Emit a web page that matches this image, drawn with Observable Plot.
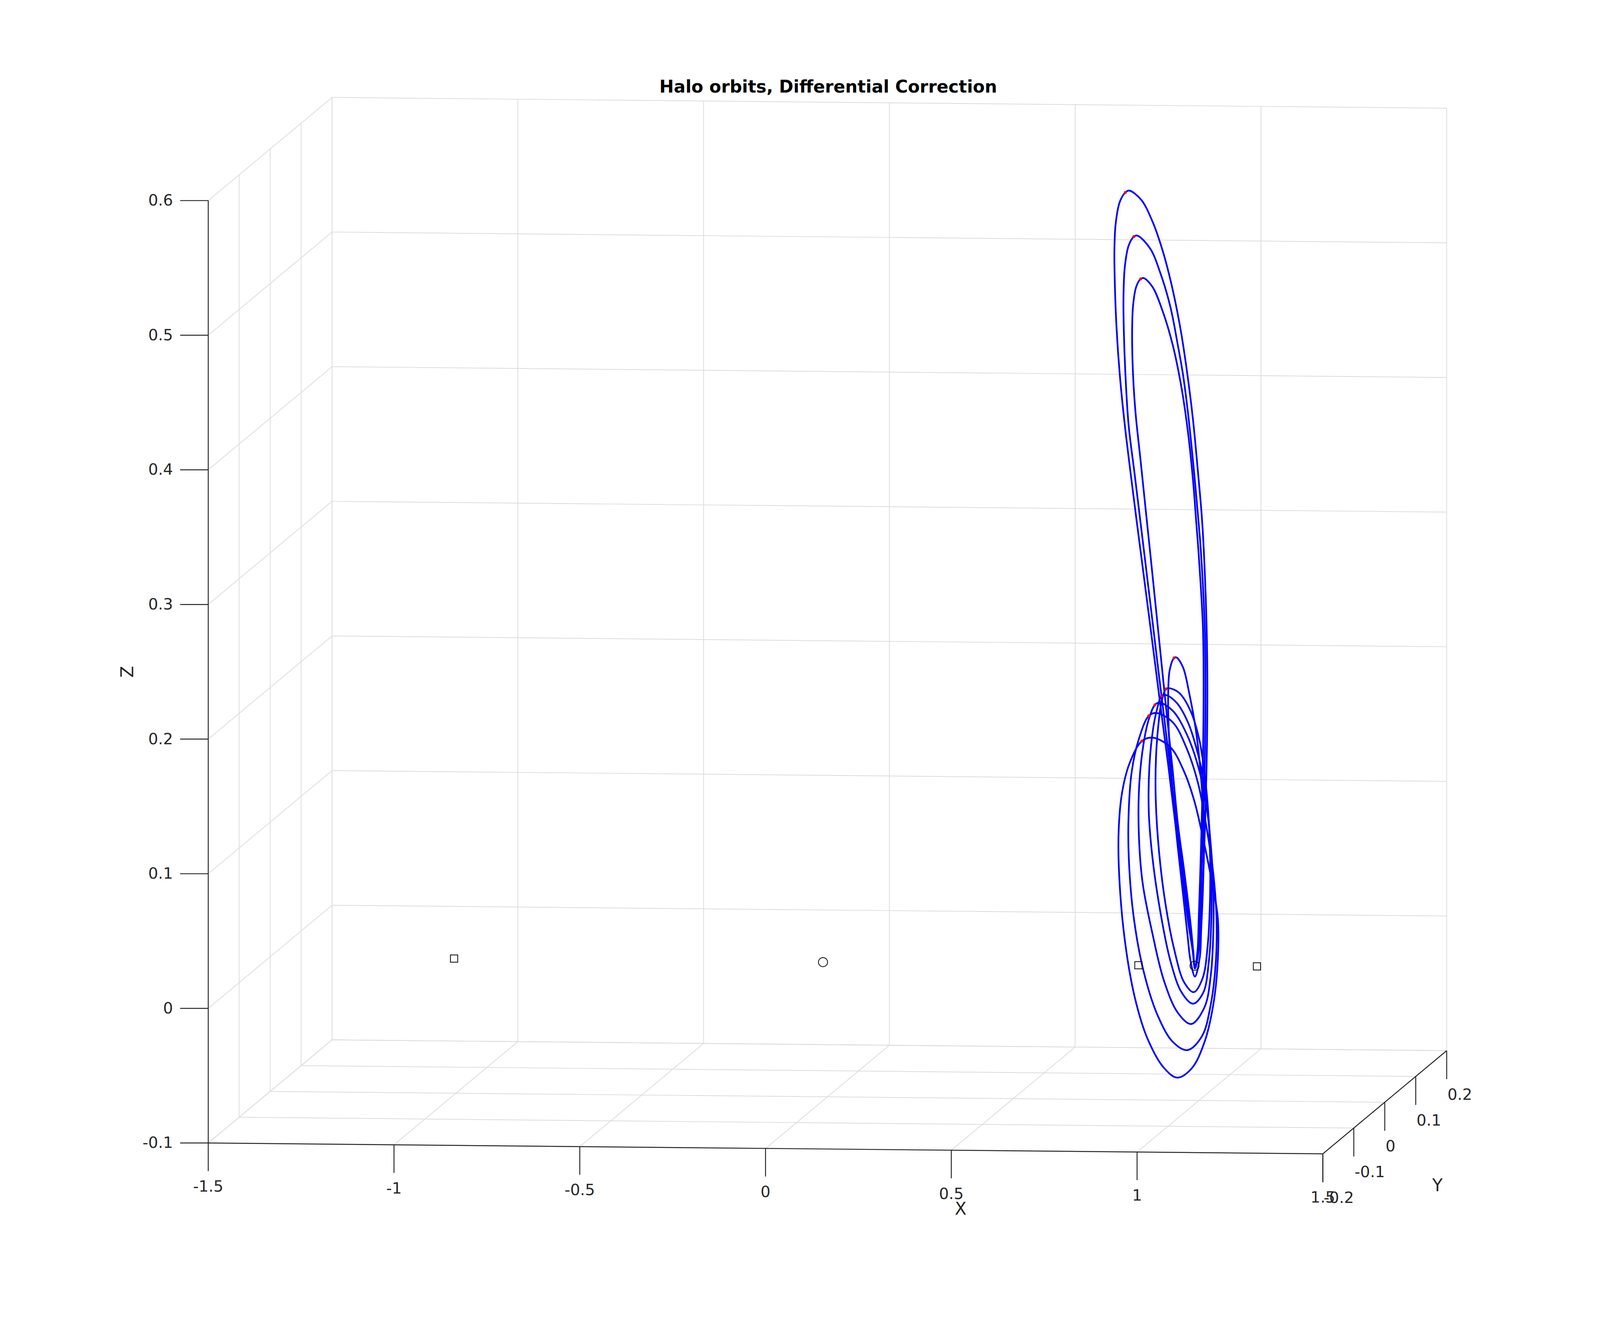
<!DOCTYPE html>
<html>
<head>
<meta charset="utf-8">
<script src="https://cdn.jsdelivr.net/npm/d3@7"></script>
<script src="https://cdn.jsdelivr.net/npm/@observablehq/plot@0.6"></script>
<style>
html, body { margin: 0; padding: 0; background: #ffffff; }
#chart svg { display: block; }
</style>
</head>
<body>
<div id="chart"></div>
<script>
// ---------- axis ticks ----------
const xTicks = [-1.5, -1, -0.5, 0, 0.5, 1, 1.5];
const yTicks = [-0.2, -0.1, 0, 0.1, 0.2];
const zTicks = [-0.1, 0, 0.1, 0.2, 0.3, 0.4, 0.5, 0.6];
const xTickLabels = ["-1.5", "-1", "-0.5", "0", "0.5", "1", "1.5"];
const yTickLabels = ["-0.2", "-0.1", "0", "0.1", "0.2"];
const zTickLabels = ["-0.1", "0", "0.1", "0.2", "0.3", "0.4", "0.5", "0.6"];
const titleText = "Halo orbits, Differential Correction";

// ---------- bodies and libration points (y = 0, z = 0) ----------
const lagrangeX = [-1.005, 0.837, 1.156];   // L3, L1, L2 (squares)
const primaryX = [-0.012, 0.988];          // Earth, Moon (circles)

// ---------- orbits: [x, z] (y taken as 0) ----------
// first point of each orbit = initial condition (red marker)
const orbitT1 = [[0.8019,0.5739],[0.8122,0.5753],[0.8445,0.5685],[0.8751,0.5523],[0.9024,0.5307],[0.9262,0.5056],[0.9500,0.4732],[0.9688,0.4391],[0.9841,0.4049],[0.9977,0.3653],[1.0073,0.3348],[1.0130,0.3082],[1.0205,0.2518],[1.0226,0.2086],[1.0215,0.1655],[1.0181,0.1223],[1.0130,0.0792],[1.0062,0.0360],[0.9990,0.0110],[0.9892,-0.0020],[0.9830,0.0110],[0.9705,0.0330],[0.9535,0.0700],[0.9364,0.1051],[0.9175,0.1482],[0.8990,0.1870],[0.8840,0.2194],[0.8690,0.2518],[0.8425,0.3082],[0.8325,0.3294],[0.8160,0.3653],[0.8002,0.4013],[0.7866,0.4391],[0.7781,0.4732],[0.7737,0.5038],[0.7723,0.5307],[0.7757,0.5505],[0.7866,0.5667]];
const orbitT2 = [[0.8248,0.5412],[0.8343,0.5419],[0.8683,0.5325],[0.8956,0.5146],[0.9228,0.4894],[0.9432,0.4606],[0.9569,0.4391],[0.9705,0.4103],[0.9841,0.3743],[0.9960,0.3384],[1.0050,0.3082],[1.0155,0.2518],[1.0175,0.2086],[1.0164,0.1655],[1.0130,0.1223],[1.0079,0.0792],[1.0028,0.0360],[0.9975,0.0110],[0.9890,-0.0020],[0.9838,0.0110],[0.9739,0.0330],[0.9569,0.0700],[0.9398,0.1051],[0.9220,0.1482],[0.9050,0.1870],[0.8905,0.2194],[0.8765,0.2518],[0.8517,0.3082],[0.8400,0.3348],[0.8265,0.3653],[0.8105,0.4013],[0.8019,0.4391],[0.7975,0.4732],[0.7968,0.4966],[0.8002,0.5182],[0.8105,0.5343]];
const orbitT3 = [[0.8428,0.5097],[0.8513,0.5104],[0.8751,0.5038],[0.9024,0.4858],[0.9296,0.4606],[0.9535,0.4283],[0.9705,0.3959],[0.9841,0.3599],[0.9926,0.3294],[0.9985,0.3082],[1.0105,0.2518],[1.0124,0.2086],[1.0113,0.1655],[1.0086,0.1223],[1.0045,0.0792],[0.9994,0.0360],[0.9960,0.0110],[0.9888,-0.0020],[0.9845,0.0110],[0.9766,0.0330],[0.9603,0.0700],[0.9432,0.1051],[0.9280,0.1482],[0.9130,0.1870],[0.9010,0.2194],[0.8890,0.2518],[0.8680,0.3082],[0.8565,0.3384],[0.8430,0.3743],[0.8292,0.4103],[0.8224,0.4391],[0.8200,0.4678],[0.8224,0.4894],[0.8309,0.5038]];
const orbitN  = [[0.9330,0.2285],[0.9392,0.2289],[0.9569,0.2216],[0.9739,0.2021],[0.9909,0.1763],[1.0028,0.1482],[1.0107,0.1180],[1.0130,0.0878],[1.0107,0.0576],[1.0060,0.0274],[1.0020,0.0060],[0.9892,-0.0081],[0.9770,0.0040],[0.9690,0.0231],[0.9535,0.0619],[0.9381,0.1008],[0.9262,0.1396],[0.9187,0.1741],[0.9170,0.2000],[0.9211,0.2194]];
const orbitE1 = [[0.9109,0.2054],[0.9194,0.2060],[0.9466,0.2026],[0.9773,0.1892],[1.0011,0.1676],[1.0164,0.1396],[1.0260,0.1094],[1.0300,0.0792],[1.0294,0.0468],[1.0232,0.0145],[1.0096,-0.0093],[0.9858,-0.0196],[0.9603,-0.0125],[0.9330,0.0123],[0.9092,0.0468],[0.8928,0.0835],[0.8837,0.1223],[0.8843,0.1547],[0.8922,0.1827],[0.8990,0.1957]];
const orbitE2 = [[0.8990,0.2000],[0.9109,0.2009],[0.9398,0.1952],[0.9705,0.1806],[0.9977,0.1568],[1.0164,0.1310],[1.0283,0.1008],[1.0334,0.0684],[1.0334,0.0360],[1.0266,0.0037],[1.0113,-0.0200],[0.9841,-0.0282],[0.9535,-0.0200],[0.9228,0.0037],[0.8956,0.0404],[0.8751,0.0792],[0.8649,0.1137],[0.8666,0.1482],[0.8768,0.1763],[0.8871,0.1903]];
const orbitE3 = [[0.8813,0.1935],[0.8939,0.1952],[0.9296,0.1892],[0.9671,0.1719],[0.9977,0.1482],[1.0181,0.1223],[1.0317,0.0900],[1.0386,0.0576],[1.0386,0.0253],[1.0317,-0.0071],[1.0147,-0.0308],[0.9790,-0.0433],[0.9432,-0.0351],[0.9058,-0.0114],[0.8751,0.0231],[0.8479,0.0619],[0.8377,0.1008],[0.8394,0.1353],[0.8513,0.1655],[0.8649,0.1827]];
const orbitE4 = [[0.8649,0.1853],[0.8854,0.1875],[0.9296,0.1806],[0.9671,0.1612],[0.9977,0.1353],[1.0215,0.1008],[1.0386,0.0684],[1.0471,0.0360],[1.0454,0.0037],[1.0317,-0.0286],[1.0079,-0.0523],[0.9688,-0.0627],[0.9296,-0.0567],[0.8888,-0.0372],[0.8513,-0.0049],[0.8241,0.0360],[0.8111,0.0792],[0.8105,0.1115],[0.8190,0.1439],[0.8377,0.1676]];
const orbitE5 = [[0.8462,0.1665],[0.8751,0.1691],[0.9228,0.1622],[0.9603,0.1439],[0.9875,0.1223],[1.0113,0.0943],[1.0351,0.0619],[1.0505,0.0360],[1.0505,0.0037],[1.0386,-0.0286],[1.0147,-0.0567],[0.9807,-0.0761],[0.9415,-0.0832],[0.9058,-0.0761],[0.8615,-0.0545],[0.8275,-0.0243],[0.8002,0.0188],[0.7849,0.0684],[0.7839,0.1008],[0.7934,0.1288],[0.8138,0.1504]];

const orbits = [["T1", orbitT1], ["T2", orbitT2], ["T3", orbitT3], ["N", orbitN],
                ["E1", orbitE1], ["E2", orbitE2], ["E3", orbitE3], ["E4", orbitE4], ["E5", orbitE5]];

// ---------- 3-D view (orthographic, MATLAB-like view) ----------
const KU = 815.8 / 979, KVX = -9.5 / 3547, KVY = 679.5 / 3547;
const U = (x, y, z) => x + KU * y;             // projected horizontal coordinate
const V = (x, y, z) => z + KVX * x + KVY * y;  // projected vertical coordinate
const PXU = 1 / 979, PXV = 1 / 3547;           // one screen pixel in u / v units
const X0 = -1.5, X1 = 1.5, Y0 = -0.2, Y1 = 0.2, Z0 = -0.1, Z1 = 0.6;
const u0 = U(X0, Y0, Z0), v0 = V(X0, Y0, Z0);

function seg(a, b) {
  return {x1: U(...a), y1: V(...a), x2: U(...b), y2: V(...b)};
}

// grid on the back wall (y=Y1), left wall (x=X0) and floor (z=Z0)
const grid = [];
for (const x of xTicks) { grid.push(seg([x, Y1, Z0], [x, Y1, Z1])); grid.push(seg([x, Y0, Z0], [x, Y1, Z0])); }
for (const y of yTicks) { grid.push(seg([X0, y, Z0], [X0, y, Z1])); grid.push(seg([X0, y, Z0], [X1, y, Z0])); }
for (const z of zTicks) { grid.push(seg([X0, Y1, z], [X1, Y1, z])); grid.push(seg([X0, Y0, z], [X0, Y1, z])); }

const axesLines = [
  seg([X0, Y0, Z0], [X1, Y0, Z0]),
  seg([X1, Y0, Z0], [X1, Y1, Z0]),
  seg([X0, Y0, Z0], [X0, Y0, Z1])
];

const TICK = 74;
const ticks = [];
for (const x of xTicks) { const u = U(x, Y0, Z0), v = V(x, Y0, Z0); ticks.push({x1: u, y1: v, x2: u, y2: v - TICK * PXV}); }
for (const y of yTicks) { const u = U(X1, y, Z0), v = V(X1, y, Z0); ticks.push({x1: u, y1: v, x2: u, y2: v - 75 * PXV}); }
for (const z of zTicks) { const u = U(X0, Y0, z), v = V(X0, Y0, z); ticks.push({x1: u, y1: v, x2: u - TICK * PXU, y2: v}); }

const xLab = xTicks.map((x, i) => ({t: xTickLabels[i], u: U(x, Y0, Z0), v: V(x, Y0, Z0) - 99 * PXV}));
const yLab = yTicks.map((y, i) => ({t: yTickLabels[i], u: U(X1, y, Z0) + 2 * PXU, v: V(X1, y, Z0) - 100 * PXV}));
const zLab = zTicks.map((z, i) => ({t: zTickLabels[i], u: U(X0, Y0, z) - 93 * PXU, v: V(X0, Y0, z)}));

const orbitPoints = orbits.flatMap(([name, pts]) => pts.map(([x, z]) => ({name, x, y: 0, z})));
const initPoints = orbits.map(([name, pts]) => ({name, x: pts[0][0], y: 0, z: pts[0][1]}));
const lagrangePts = lagrangeX.map(x => ({x, y: 0, z: 0}));
const primaryPts = primaryX.map(x => ({x, y: 0, z: 0}));

const FONT = "DejaVu Sans";
const INK = "#262626";
const pu = d => U(d.x, d.y, d.z), pv = d => V(d.x, d.y, d.z);

const chart = Plot.plot({
  width: 4216,
  height: 3417,
  margin: 0,
  style: {background: "#ffffff", fontFamily: FONT},
  x: {type: "linear", domain: [u0, u0 + 1], range: [548.2, 548.2 + 979], axis: null},
  y: {type: "linear", domain: [v0, v0 + 1], range: [3010.8, 3010.8 - 3547], axis: null},
  marks: [
    Plot.link(grid, {x1: "x1", y1: "y1", x2: "x2", y2: "y2", stroke: "#dcdcdc", strokeWidth: 2}),
    Plot.link(axesLines, {x1: "x1", y1: "y1", x2: "x2", y2: "y2", stroke: INK, strokeWidth: 2.5}),
    Plot.link(ticks, {x1: "x1", y1: "y1", x2: "x2", y2: "y2", stroke: INK, strokeWidth: 2.5}),
    Plot.text(xLab, {x: "u", y: "v", text: "t", textAnchor: "middle", lineAnchor: "top", fontSize: 41, fill: INK, fontFamily: FONT}),
    Plot.text(yLab, {x: "u", y: "v", text: "t", textAnchor: "start", lineAnchor: "top", fontSize: 41, fill: INK, fontFamily: FONT}),
    Plot.text(zLab, {x: "u", y: "v", text: "t", textAnchor: "end", lineAnchor: "middle", fontSize: 41, fill: INK, fontFamily: FONT}),
    // axis labels
    Plot.text(["X"], {x: [U(0.525, Y0, Z0)], y: [V(0.525, Y0, Z0) - 155 * PXV], text: d => d, lineAnchor: "middle", fontSize: 45, fill: INK, fontFamily: FONT}),
    Plot.text(["Y"], {x: [U(X1, 0.17, Z0)], y: [V(X1, 0.17, Z0) - 336 * PXV], text: d => d, lineAnchor: "middle", fontSize: 45, fill: INK, fontFamily: FONT}),
    Plot.text(["Z"], {x: [U(X0, Y0, 0.25) - 212 * PXU], y: [V(X0, Y0, 0.25)], text: d => d, lineAnchor: "middle", rotate: -90, fontSize: 45, fill: INK, fontFamily: FONT}),
    // title
    Plot.text([titleText], {x: [(U(X0, Y0, Z1) + U(X1, Y1, Z1)) / 2 + 2 * PXU], y: [V(X0, Y1, Z1) + 13 * PXV], text: d => d, lineAnchor: "bottom", fontSize: 45.5, fontWeight: "bold", fill: "#000000", fontFamily: FONT}),
    // orbits
    Plot.line(orbitPoints, {x: pu, y: pv, z: "name", stroke: "#0000ff", strokeWidth: 4.5, curve: "catmull-rom-closed"}),
    Plot.dot(initPoints, {x: pu, y: pv, r: 3.5, fill: "#ff0000", stroke: "#ff0000", strokeWidth: 1}),
    // libration points and primaries
    Plot.dot(lagrangePts, {x: pu, y: pv, symbol: "square", r: 10.8, fill: "none", stroke: "#000000", strokeWidth: 2}),
    Plot.dot(primaryPts, {x: pu, y: pv, symbol: "circle", r: 12, fill: "none", stroke: "#000000", strokeWidth: 2})
  ]
});
document.getElementById("chart").appendChild(chart);
</script>
</body>
</html>
